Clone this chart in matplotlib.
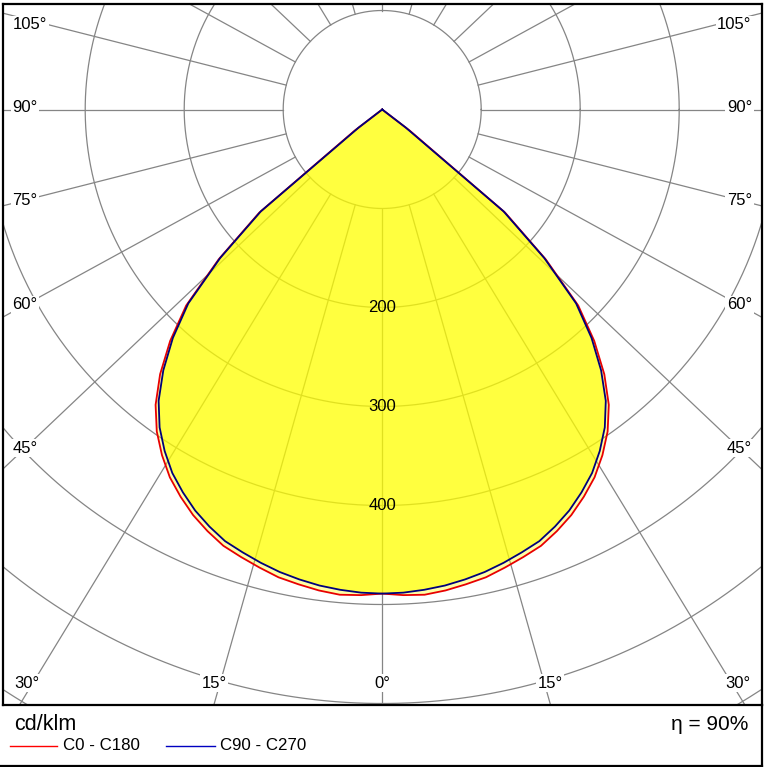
import numpy as np
import matplotlib
matplotlib.use("Agg")
import matplotlib.pyplot as plt
from matplotlib.lines import Line2D

plt.rcParams['font.family'] = ['Liberation Sans', 'DejaVu Sans']

# ---- data (cd/klm), gamma angles 0..90 in 2.5 deg steps ----
gamma = [0, 2.5, 5, 7.5, 10, 12.5, 15, 17.5, 20, 22.5, 25, 27.5, 30, 32.5, 35,
         37.5, 40, 42.5, 45, 47.5, 50, 52.5, 55, 57.5, 60, 62.5, 65, 67.5, 70,
         72.5, 75, 77.5, 80, 82.5, 85, 87.5, 90]
c0_c180 = [489, 491, 492, 490, 487, 484, 479, 474, 469, 461, 452, 441, 429, 414, 397,
           376, 349, 317, 280, 224, 162, 35, 0, 0, 0, 0, 0, 0, 0,
           0, 0, 0, 0, 0, 0, 0, 0]
c90_c270 = [489, 488.5, 487, 485, 482, 478.5, 474, 469, 464, 456, 447, 436, 424, 409, 392,
            371, 344, 313, 277, 222, 160, 30, 0, 0, 0, 0, 0, 0, 0,
            0, 0, 0, 0, 0, 0, 0, 0]
ring_values = [100, 200, 300, 400, 500, 600, 700, 800]
ring_labels = [200, 300, 400]
spoke_angles = list(range(0, 360, 15))
side_label_angles = [45, 60, 75, 90, 105]
bottom_label_angles = [0, 15, 30]
legend_names = ['C0 - C180', 'C90 - C270']
unit_text = 'cd/klm'
eta_text = 'η = 90%'

# ---- layout ----
W, H = 766, 767
fig = plt.figure(figsize=(W / 100, H / 100), dpi=100)
ax = fig.add_axes([3 / W, 62 / H, 759 / W, 701 / H])
S = 0.99          # px per cd/klm
cx, cy = 382.2, 109.5   # centre in pixels (from top-left)
x0 = (3 - cx) / S
x1 = (762 - cx) / S
y1 = (cy - 4) / S
y0 = (cy - 705) / S
ax.set_xlim(x0, x1)
ax.set_ylim(y0, y1)
ax.set_xticks([])
ax.set_yticks([])
for sp in ax.spines.values():
    sp.set_linewidth(1.6)
    sp.set_color('black')

grid_col = '#858585'
K = 1.055   # slight horizontal stretch of the spokes in the original

# rings
t = np.linspace(0, 2 * np.pi, 721)
for r in ring_values:
    ax.plot(r * np.cos(t), r * np.sin(t), color=grid_col, lw=0.9, zorder=1)

# spokes, starting at the inner ring
for a in spoke_angles:
    ar = np.radians(a)
    d = np.array([K * np.sin(ar), -np.cos(ar)])
    d = d / np.hypot(*d)
    ax.plot([100 * d[0], 1200 * d[0]], [100 * d[1], 1200 * d[1]],
            color=grid_col, lw=0.9, zorder=1)


def curve(vals):
    g = np.radians(np.array(gamma))
    r = np.array(vals, dtype=float)
    xr, yr = r * np.sin(g), -r * np.cos(g)
    xs = np.concatenate([-xr[::-1], xr[1:]])
    ys = np.concatenate([yr[::-1], yr[1:]])
    return xs, ys


xr_, yr_ = curve(c0_c180)
xb_, yb_ = curve(c90_c270)
ax.fill(xr_, yr_, color='#ffff00', alpha=0.35, lw=0, zorder=2)
ax.fill(xb_, yb_, color='#ffff00', alpha=0.62, lw=0, zorder=2)
ax.plot(xr_, yr_, color='#e80000', lw=1.3, zorder=4)
ax.plot(xb_, yb_, color='#00007a', lw=1.3, zorder=5)

# ring labels
for v in ring_labels:
    ax.text(0, -v, str(v), ha='center', va='center', fontsize=12,
            color='black', zorder=6)

lab_kw = dict(ha='center', va='center', fontsize=12, color='black', zorder=7,
              bbox=dict(boxstyle='square,pad=0.1', fc='white', ec='none'))

# side labels: spoke meets x = inset line
xin = (cx - 25) / S
for a in side_label_angles:
    ar = np.radians(a)
    tt = xin / (K * np.sin(ar))
    yy = -tt * np.cos(ar)
    for sgn in (-1, 1):
        xx = sgn * xin
        y_lab = yy
        if a == 105:
            xx = sgn * (cx - 30) / S
            y_lab = yy - 6 / S
        if a == 90:
            y_lab = yy + 2 / S
        ax.text(xx, y_lab, f'{a}°', **lab_kw)

# bottom labels: spoke meets y = inset line
yin = (cy - 683) / S
for a in bottom_label_angles:
    ar = np.radians(a)
    tt = -yin / np.cos(ar)
    xx = tt * K * np.sin(ar)
    if a == 0:
        ax.text(0, yin, '0°', **lab_kw)
    else:
        for sgn in (-1, 1):
            ax.text(sgn * (xx + 6), yin, f'{a}°', **lab_kw)

# ---- texts below the chart ----
fig.text(14 / W, 1 - 724 / H, unit_text, ha='left', va='center', fontsize=15.5)
fig.text(748 / W, 1 - 724 / H, eta_text, ha='right', va='center', fontsize=15)
ly = 1 - 746 / H
fig.add_artist(Line2D([10 / W, 57 / W], [ly, ly], color='#ff0000', lw=1.0))
fig.text(63 / W, ly, legend_names[0], ha='left', va='center', fontsize=12.2)
fig.add_artist(Line2D([166 / W, 215 / W], [ly, ly], color='#0000c0', lw=1.0))
fig.text(220 / W, ly, legend_names[1], ha='left', va='center', fontsize=12.2)

# outer frame (right and bottom)
fig.add_artist(Line2D([762 / W, 762 / W], [0, 62 / H], color='black', lw=1.6))
fig.add_artist(Line2D([0, 762 / W], [1.2 / H, 1.2 / H], color='black', lw=1.6))

fig.savefig('out.png', dpi=100)
